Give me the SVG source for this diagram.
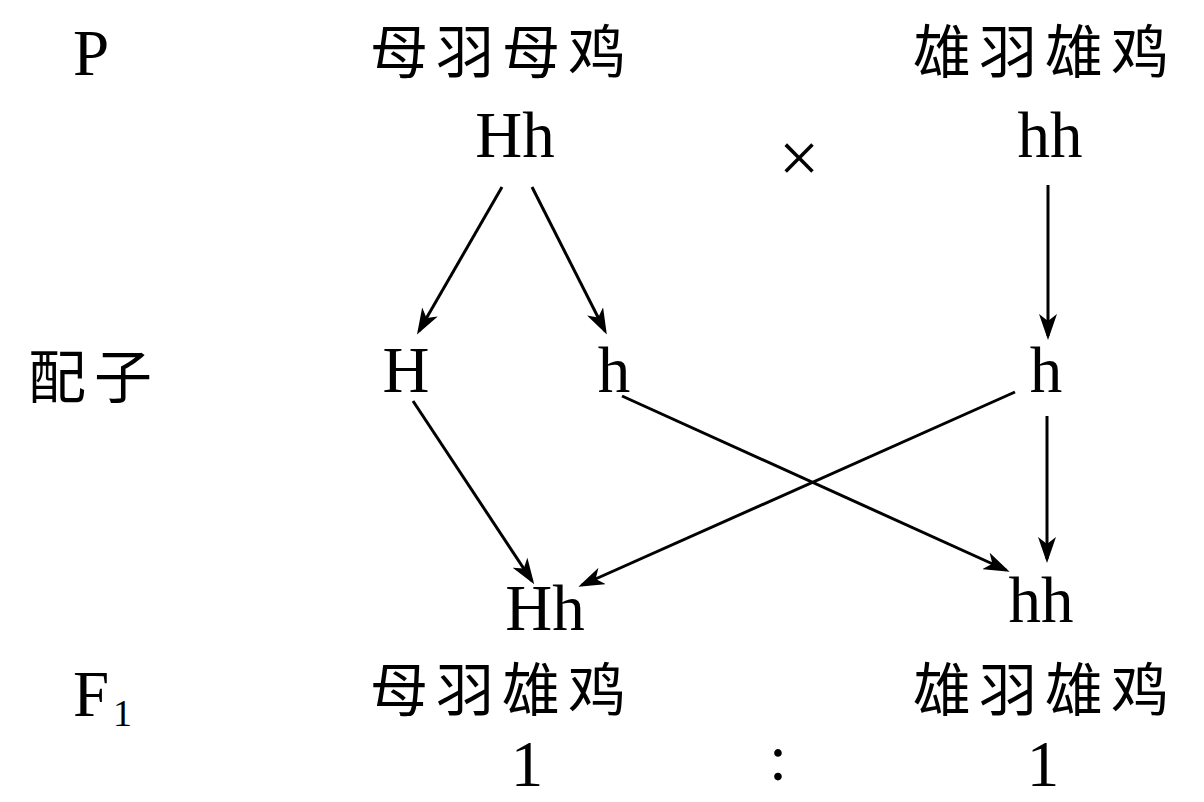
<svg xmlns="http://www.w3.org/2000/svg" width="1204" height="802" viewBox="0 0 1204 802">
<style>
.lat{font-family:"Liberation Serif","Times New Roman",serif;font-size:65px;fill:#000}
.cjk{font-family:"Noto Sans CJK SC",sans-serif;font-size:58px;letter-spacing:8px;fill:#000}
.sub{font-family:"Liberation Serif","Times New Roman",serif;font-size:38px;fill:#000}
.conn{stroke:#000;stroke-width:3;fill:none;marker-end:url(#ah)}
</style>
<defs>
<marker id="ah" viewBox="0 0 26 18" refX="22" refY="9" markerWidth="26" markerHeight="18" markerUnits="userSpaceOnUse" orient="auto">
<path d="M0,0 L26,9 L0,18 L7,9 z" fill="#000"/>
</marker>
</defs>
<rect width="1204" height="802" fill="#fff"/>
<g id="labels">
<text class="lat" x="73" y="75">P</text>
<text class="cjk" x="28" y="398">配子</text>
<text class="lat" x="73" y="716">F</text>
<text class="sub" x="113" y="726">1</text>
</g>
<g id="p-female">
<text class="cjk" x="370" y="73">母羽母鸡</text>
<text class="lat" x="515" y="157" text-anchor="middle">Hh</text>
</g>
<g id="cross"><text class="lat" x="799" y="182" text-anchor="middle" style="font-size:72px">×</text></g>
<g id="p-male">
<text class="cjk" x="913" y="73">雄羽雄鸡</text>
<text class="lat" x="1050" y="157" text-anchor="middle">hh</text>
</g>
<g id="g-H"><text class="lat" x="406" y="392" text-anchor="middle">H</text></g>
<g id="g-h1"><text class="lat" x="614" y="392" text-anchor="middle">h</text></g>
<g id="g-h2"><text class="lat" x="1046" y="392" text-anchor="middle">h</text></g>
<g id="f1-Hh">
<text class="lat" x="545" y="630" text-anchor="middle">Hh</text>
<text class="cjk" x="370" y="711">母羽雄鸡</text>
<text class="lat" x="527" y="786" text-anchor="middle">1</text>
</g>
<g id="f1-hh">
<text class="lat" x="1041" y="622" text-anchor="middle">hh</text>
<text class="cjk" x="913" y="711">雄羽雄鸡</text>
<text class="lat" x="1043" y="786" text-anchor="middle">1</text>
</g>
<g id="ratio"><text class="lat" x="778" y="780" text-anchor="middle">:</text></g>
<g id="connectors">
<line class="conn" x1="502" y1="187" x2="419" y2="331"/>
<line class="conn" x1="532" y1="187" x2="605" y2="331"/>
<line class="conn" x1="1048" y1="185" x2="1048" y2="336"/>
<line class="conn" x1="413" y1="401" x2="532" y2="581"/>
<line class="conn" x1="622" y1="396" x2="1006" y2="570"/>
<line class="conn" x1="1015" y1="392" x2="582" y2="585"/>
<line class="conn" x1="1047" y1="416" x2="1047" y2="559"/>
</g>
</svg>
